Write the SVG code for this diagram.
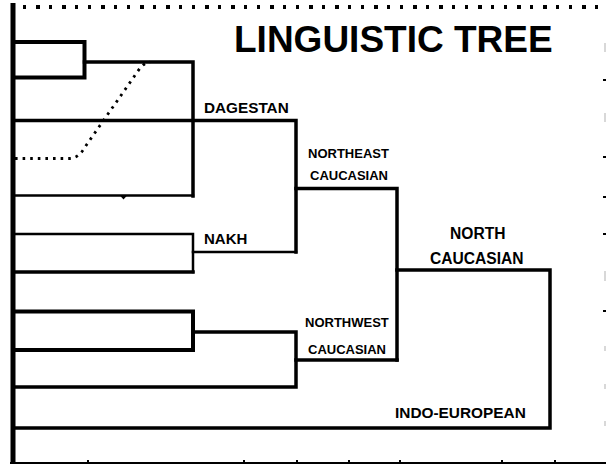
<svg xmlns="http://www.w3.org/2000/svg" width="606" height="465" viewBox="0 0 606 465">
<style>
.t{font-family:"Liberation Sans",Arial,sans-serif;font-weight:bold;fill:#000}
.ln{fill:none;stroke:#000;stroke-linecap:square;stroke-linejoin:miter}
.w4{stroke-width:4}
.w35{stroke-width:3.5}
.w25{stroke-width:2.5}
.tk{fill:#000}
.gk{fill:#d8d8d8}
.dt{fill:#000}
</style>
<rect width="606" height="465" fill="#fff"/>
<g id="frame">
<g class="dt">
<rect x="23" y="5" width="3" height="4"/><rect x="36" y="5" width="4" height="4"/><rect x="49" y="5" width="3" height="4"/><rect x="62" y="5" width="4" height="4"/>
<rect x="75" y="5" width="3" height="4"/><rect x="88" y="5" width="3" height="4"/><rect x="101" y="5" width="4" height="4"/><rect x="114" y="5" width="3" height="4"/>
<rect x="127" y="5" width="3" height="4"/><rect x="140" y="5" width="4" height="4"/><rect x="153" y="5" width="3" height="4"/><rect x="166" y="5" width="4" height="4"/>
<rect x="179" y="5" width="3" height="4"/><rect x="192" y="5" width="3" height="4"/><rect x="205" y="5" width="4" height="4"/><rect x="218" y="5" width="3" height="4"/>
<rect x="231" y="5" width="4" height="4"/><rect x="244" y="5" width="3" height="4"/><rect x="257" y="5" width="3" height="4"/><rect x="270" y="5" width="4" height="4"/>
<rect x="283" y="5" width="3" height="4"/><rect x="296" y="5" width="3" height="4"/><rect x="309" y="5" width="4" height="4"/><rect x="322" y="5" width="3" height="4"/>
<rect x="335" y="5" width="4" height="4"/><rect x="348" y="5" width="3" height="4"/><rect x="361" y="5" width="3" height="4"/><rect x="374" y="5" width="4" height="4"/>
<rect x="387" y="5" width="3" height="4"/><rect x="400" y="5" width="3" height="4"/><rect x="413" y="5" width="4" height="4"/><rect x="426" y="5" width="3" height="4"/>
<rect x="439" y="5" width="4" height="4"/><rect x="452" y="5" width="3" height="4"/><rect x="465" y="5" width="3" height="4"/><rect x="478" y="5" width="4" height="4"/>
<rect x="491" y="5" width="3" height="4"/><rect x="504" y="5" width="3" height="4"/><rect x="517" y="5" width="4" height="4"/><rect x="530" y="5" width="3" height="4"/>
<rect x="543" y="5" width="4" height="4"/><rect x="556" y="5" width="3" height="4"/><rect x="569" y="5" width="3" height="4"/><rect x="582" y="5" width="4" height="4"/>
<rect x="595" y="5" width="3" height="4"/>
</g>
<line x1="13" y1="3" x2="13" y2="463" stroke="#000" stroke-width="5"/>
<line x1="10" y1="463" x2="606" y2="463" stroke="#000" stroke-width="2"/>
<g class="tk">
<rect x="87" y="460" width="2" height="3"/>
<rect x="243" y="460" width="2" height="3"/>
<rect x="296" y="460" width="2" height="3"/>
<rect x="348" y="460" width="2" height="3"/>
<rect x="399" y="460" width="2" height="3"/>
<rect x="501" y="460" width="2" height="3"/>
<rect x="554" y="460" width="2" height="3"/>
<rect x="603" y="79" width="3" height="2"/>
<rect x="603" y="156" width="3" height="2"/>
<rect x="603" y="196" width="3" height="2"/>
<rect x="603" y="233" width="3" height="2"/>
<rect x="603" y="310" width="3" height="2"/>
</g>
<g class="gk">
<rect x="604" y="43" width="2" height="9"/>
<rect x="604" y="113" width="2" height="9"/>
<rect x="604" y="271" width="2" height="10"/>
<rect x="604" y="346" width="2" height="5"/>
<rect x="604" y="384" width="2" height="5"/>
<rect x="604" y="421" width="2" height="5"/>
</g>
</g>
<g id="connectors">
<path class="ln w4" d="M13 42 H84.5 V77.5 H13"/>
<path class="ln w35" d="M84.5 62 H193 V196"/>
<path class="ln w35" d="M13 120.5 H296 V252"/>
<path class="ln w25" d="M13 195.5 H193"/>
<polygon points="119.5,195 127.5,195 123.5,199.5" fill="#000"/>
<path d="M15 158.5 L70 158.5 Q79 158 85 147 L138 71 Q143 63 150 62" fill="none" stroke="#000" stroke-width="2.8" stroke-dasharray="2.6 5"/>
<path class="ln w25" d="M13 234 H193 V272"/>
<path class="ln w35" d="M13 272 H193"/>
<path class="ln w25" d="M193 252 H296"/>
<path class="ln w35" d="M296 188.5 H397 V360"/>
<path class="ln w4" d="M13 311.5 H193 V350 H13"/>
<path class="ln w35" d="M193 332 H296 V387 H13"/>
<path class="ln w35" d="M296 360 H397"/>
<path class="ln w35" d="M397 270 H550 V428 H13"/>
</g>
<g id="title"><text class="t" x="234" y="52" font-size="37">LINGUISTIC TREE</text></g>
<g id="dagestan"><text class="t" x="204" y="113" font-size="15.3">DAGESTAN</text></g>
<g id="nakh"><text class="t" x="204" y="244" font-size="15">NAKH</text></g>
<g id="northeast-caucasian">
<text class="t" x="308" y="158" font-size="13">NORTHEAST</text>
<text class="t" x="310" y="180" font-size="13">CAUCASIAN</text>
</g>
<g id="north-caucasian">
<text class="t" x="450" y="239" font-size="15.6">NORTH</text>
<text class="t" x="430" y="264" font-size="15.6">CAUCASIAN</text>
</g>
<g id="northwest-caucasian">
<text class="t" x="305" y="327" font-size="13">NORTHWEST</text>
<text class="t" x="308" y="354" font-size="13">CAUCASIAN</text>
</g>
<g id="indo-european"><text class="t" x="395" y="418" font-size="15.4">INDO-EUROPEAN</text></g>
</svg>
